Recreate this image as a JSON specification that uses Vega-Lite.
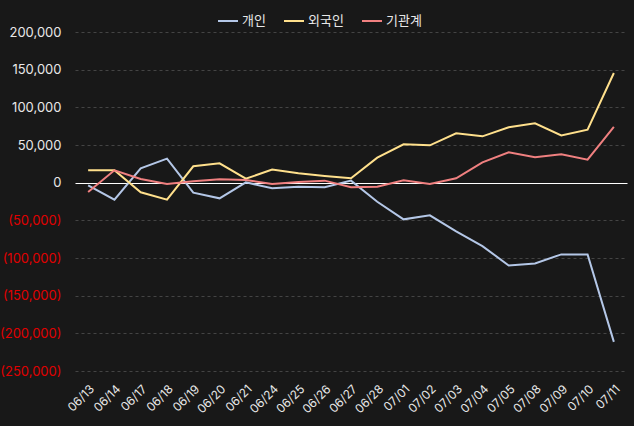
{
  "$schema": "https://vega.github.io/schema/vega-lite/v6.json",
  "width": 552,
  "height": 339,
  "autosize": "none",
  "padding": {"left": 75, "top": 32, "right": 7, "bottom": 55},
  "background": "#181818",
  "config": {
    "view": {"stroke": null},
    "font": "Inter, Noto Sans CJK KR, sans-serif"
  },
  "datasets": {
    "rows": [
      {"date": "06/13", "개인": -3500, "외국인": 16400, "기관계": -12400},
      {"date": "06/14", "개인": -22600, "외국인": 16400, "기관계": 16400},
      {"date": "06/17", "개인": 19000, "외국인": -12800, "기관계": 4900},
      {"date": "06/18", "개인": 31900, "외국인": -22600, "기관계": -1800},
      {"date": "06/19", "개인": -13300, "외국인": 21700, "기관계": 1800},
      {"date": "06/20", "개인": -20800, "외국인": 25700, "기관계": 4400},
      {"date": "06/21", "개인": 500, "외국인": 5300, "기관계": 3500},
      {"date": "06/24", "개인": -7500, "외국인": 17300, "기관계": -1800},
      {"date": "06/25", "개인": -5300, "외국인": 12400, "기관계": 900},
      {"date": "06/26", "개인": -6200, "외국인": 8900, "기관계": 2700},
      {"date": "06/27", "개인": 2700, "외국인": 5800, "기관계": -6200},
      {"date": "06/28", "개인": -25300, "외국인": 33200, "기관계": -5300},
      {"date": "07/01", "개인": -48700, "외국인": 50900, "기관계": 3100},
      {"date": "07/02", "개인": -43400, "외국인": 49600, "기관계": -1800},
      {"date": "07/03", "개인": -64700, "외국인": 65500, "기관계": 5800},
      {"date": "07/04", "개인": -84200, "외국인": 61500, "기관계": 27000},
      {"date": "07/05", "개인": -109900, "외국인": 73500, "기관계": 40300},
      {"date": "07/08", "개인": -107200, "외국인": 78800, "기관계": 33600},
      {"date": "07/09", "개인": -95200, "외국인": 62800, "기관계": 37600},
      {"date": "07/10", "개인": -95200, "외국인": 70400, "기관계": 30500},
      {"date": "07/11", "개인": -211300, "외국인": 145600, "기관계": 73900}
    ]
  },
  "data": {"name": "rows"},
  "transform": [{"fold": ["개인", "외국인", "기관계"], "as": ["series", "value"]}],
  "mark": {"type": "line", "strokeWidth": 2},
  "encoding": {
    "x": {
      "field": "date", "type": "ordinal", "sort": null,
      "scale": {"type": "point", "padding": 0.5},
      "axis": {
        "title": null, "labelAngle": -45, "labelColor": "#e8e8e8", "labelFontSize": 12,
        "ticks": false, "domain": false, "grid": false, "labelPadding": 12, "labelOverlap": false
      }
    },
    "y": {
      "field": "value", "type": "quantitative",
      "scale": {"domain": [-250000, 200000], "nice": false},
      "axis": {
        "title": null, "values": [-250000, -200000, -150000, -100000, -50000, 0, 50000, 100000, 150000, 200000],
        "labelExpr": "datum.value < 0 ? '(' + format(-datum.value, ',') + ')' : format(datum.value, ',')",
        "labelColor": {"condition": {"test": "datum.value < 0", "value": "#e00000"}, "value": "#e8e8e8"},
        "labelFontSize": 13, "labelPadding": 14, "labelOverlap": false, "labelBound": false, "labelFlush": false,
        "ticks": false, "domain": false,
        "grid": true,
        "gridColor": {"condition": {"test": "datum.value === 0", "value": "#ffffff"}, "value": "#444444"},
        "gridDash": {"condition": {"test": "datum.value === 0", "value": []}, "value": [3, 3]},
        "gridWidth": 1
      }
    },
    "color": {
      "field": "series", "type": "nominal",
      "scale": {"domain": ["개인", "외국인", "기관계"], "range": ["#b4c7e7", "#ffe08c", "#f08080"]},
      "legend": {
        "title": null, "orient": "none", "legendX": 142, "legendY": -22, "direction": "horizontal",
        "symbolType": "stroke", "symbolSize": 400, "symbolStrokeWidth": 2,
        "labelColor": "#e8e8e8", "labelFontSize": 13, "columnPadding": 14, "labelOffset": 3
      }
    }
  }
}
